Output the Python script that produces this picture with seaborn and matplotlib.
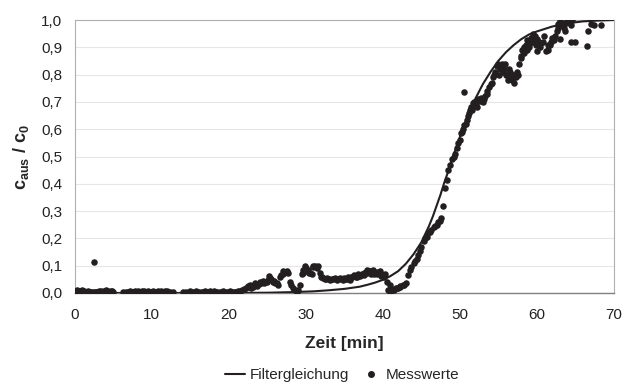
import numpy as np
import pandas as pd
import matplotlib
matplotlib.use("Agg")
import matplotlib.pyplot as plt
import seaborn as sns
from matplotlib.lines import Line2D
from matplotlib.ticker import FuncFormatter, MultipleLocator

# ---- data ----
line_t = [0, 20, 25, 28, 31, 33, 35, 37, 38, 39, 40, 41, 42, 43, 44, 45, 46, 46.5, 47, 47.5,
          48, 48.5, 49, 49.5, 50, 50.5, 51, 52, 53, 54, 55, 56, 57, 58, 59, 60, 62, 64, 66,
          68, 70]
line_c = [0, 0, 0.001, 0.003, 0.006, 0.01, 0.015, 0.023, 0.03, 0.038, 0.048, 0.062, 0.08,
          0.107, 0.142, 0.185, 0.245, 0.28, 0.32, 0.36, 0.405, 0.445, 0.49, 0.53, 0.57, 0.61,
          0.645, 0.71, 0.765, 0.81, 0.85, 0.882, 0.908, 0.93, 0.947, 0.958, 0.976, 0.988,
          0.995, 0.998, 1.0]

base_t = [0.1, 0.3, 0.5, 0.7, 0.9, 1.1, 1.4, 1.7, 2.0, 2.3, 2.5, 2.6, 2.9, 3.2, 3.5, 3.8,
          4.1, 4.4, 4.7, 5.0, 6.2, 6.6, 6.9, 7.2, 7.5, 7.8, 8.1, 8.4, 8.7, 9.0, 9.3, 9.6,
          9.9, 10.2, 10.5, 10.8, 11.1, 11.4, 11.7, 12.0, 12.3, 12.7, 14.0, 14.5, 14.9,
          15.3, 15.7, 16.1, 16.5, 16.9, 17.3, 17.7, 18.1, 18.5, 18.9, 19.3, 19.7, 20.1, 20.5,
          0.2, 0.6, 1.0, 1.25, 1.55, 1.85, 2.15, 2.75, 3.05, 3.35, 3.65, 3.95, 4.25, 4.55,
          4.85, 7.05, 7.65, 8.25, 8.85, 9.45, 10.05, 10.65, 11.25, 11.85, 15.1, 15.9, 16.7,
          17.5, 18.3, 19.1, 19.9, 20.3]
base_c = [0.006, 0.01, 0.004, 0.008, 0.012, 0.005, 0.003, 0.006, 0.004, 0.002, 0.115, 0.005,
          0.003, 0.006, 0.004, 0.008, 0.01, 0.005, 0.007, 0.004, 0.002, 0.005, 0.003,
          0.006, 0.004, 0.007, 0.005, 0.003, 0.008, 0.006, 0.004, 0.005, 0.002, 0.006,
          0.004, 0.007, 0.005, 0.003, 0.008, 0.006, 0.004, 0.005, 0.004, 0.003, 0.006,
          0.004, 0.008, 0.005, 0.003, 0.006, 0.004, 0.003, 0.007, 0.005, 0.004, 0.008,
          0.005, 0.006, 0.003,
          0.003, 0.007, 0.004, 0.009, 0.004, 0.002, 0.005, 0.004, 0.002, 0.006, 0.003,
          0.007, 0.009, 0.004, 0.006, 0.002, 0.004, 0.006, 0.003, 0.007, 0.004, 0.003,
          0.006, 0.004, 0.002, 0.005, 0.004, 0.006, 0.003, 0.005, 0.004, 0.002]

mid_t = [20.8, 21.2, 21.7, 22.0, 22.3, 22.7, 23.1, 23.4, 23.7, 24.0, 24.4, 24.7, 25.1, 25.2,
         25.5, 25.7, 26.0, 26.4, 26.6, 27.0, 27.3, 27.7, 27.9, 28.3, 28.6, 29.0, 29.2, 29.5,
         29.7, 29.9, 30.1, 30.4, 30.8, 30.9, 31.2, 31.6, 32.1, 32.3, 32.6, 33.0, 33.4, 33.8,
         34.2, 34.6, 35.0, 35.4, 35.7, 36.0, 36.3, 36.6, 37.0, 37.3, 37.6, 37.9, 38.2, 38.5,
         38.7, 39.0, 39.3, 39.6, 39.9, 40.1, 40.3, 40.5, 40.7, 40.9, 41.2, 41.4, 41.7, 42.0,
         42.3, 42.6, 43.0, 43.3,
         21.0, 21.5, 22.5, 22.9, 23.3, 23.9, 24.2, 24.6, 24.9, 25.4, 25.9, 26.2, 26.8, 27.1,
         27.5, 28.1, 28.9, 29.6, 30.0, 30.3, 30.6, 31.0, 31.4, 31.8, 32.0, 32.5, 32.8, 33.2,
         33.6, 34.0, 34.4, 34.8, 35.2, 35.5, 35.9, 36.2, 36.5, 36.8, 37.1, 37.5, 37.8, 38.0,
         38.4, 38.9, 39.2, 39.5, 39.8, 40.2, 41.0, 41.5, 41.9, 42.2, 42.8]
mid_c = [0.003, 0.006, 0.01, 0.015, 0.02, 0.03, 0.022, 0.035, 0.025, 0.04, 0.045, 0.04, 0.048,
         0.063, 0.05, 0.04, 0.035, 0.03, 0.06, 0.08, 0.078, 0.075, 0.04, 0.02, 0.012, 0.01,
         0.03, 0.07, 0.085, 0.1, 0.08, 0.072, 0.07, 0.1, 0.098, 0.1, 0.06, 0.055, 0.05, 0.052,
         0.05, 0.055, 0.05, 0.052, 0.055, 0.05, 0.048, 0.06, 0.065, 0.06, 0.065, 0.07, 0.066,
         0.085, 0.08, 0.07, 0.085, 0.075, 0.07, 0.08, 0.065, 0.06, 0.07, 0.04, 0.01, 0.03,
         0.01, 0.015, 0.02, 0.02, 0.025, 0.03, 0.035, 0.067,
         0.005, 0.008, 0.025, 0.018, 0.03, 0.032, 0.038, 0.035, 0.042, 0.055, 0.045, 0.038,
         0.065, 0.07, 0.08, 0.03, 0.005, 0.075, 0.09, 0.085, 0.075, 0.095, 0.092, 0.075,
         0.058, 0.05, 0.055, 0.048, 0.053, 0.049, 0.054, 0.047, 0.053, 0.06, 0.058, 0.062,
         0.057, 0.068, 0.062, 0.072, 0.078, 0.075, 0.082, 0.068, 0.078, 0.072, 0.062, 0.065,
         0.008, 0.012, 0.018, 0.022, 0.03]

rise_t = [43.7, 44.2, 44.6, 45.0, 45.5, 45.9, 46.3, 46.8, 47.2, 47.6, 47.8, 48.1, 48.3, 48.5,
          48.7, 49.0, 49.4, 49.8, 50.0, 50.2, 50.4, 50.6, 50.6, 50.9, 51.1, 51.3, 51.5, 51.7,
          52.0, 52.2, 52.4, 52.8, 53.0, 53.3, 53.5, 53.8, 54.2, 54.3, 54.6, 54.8,
          43.5, 44.0, 44.4, 44.8, 45.3, 45.7, 46.1, 46.6, 47.0, 47.4, 49.2, 49.6, 50.3, 50.8,
          51.2, 51.6, 51.9, 52.1, 52.6, 53.1, 53.6, 54.0, 54.5]
rise_c = [0.097, 0.116, 0.14, 0.17, 0.2, 0.22, 0.23, 0.245, 0.26, 0.275, 0.317, 0.385, 0.415,
          0.45, 0.47, 0.49, 0.51, 0.55, 0.56, 0.585, 0.6, 0.615, 0.735, 0.635, 0.65, 0.67,
          0.68, 0.695, 0.7, 0.68, 0.71, 0.715, 0.7, 0.72, 0.74, 0.755, 0.77, 0.79, 0.81, 0.83,
          0.085, 0.11, 0.125, 0.155, 0.19, 0.205, 0.225, 0.24, 0.25, 0.265, 0.5, 0.53, 0.59,
          0.62, 0.66, 0.67, 0.7, 0.69, 0.705, 0.71, 0.73, 0.765, 0.8]

top_t = [55.0, 55.2, 55.4, 55.6, 55.9, 56.1, 56.3, 56.5, 56.7, 56.8, 57.0, 57.2, 57.4, 57.6,
         57.7, 57.9, 58.1, 58.4, 58.6, 58.8, 59.0, 59.2, 59.5, 59.7, 59.9, 60.1, 60.3, 60.6,
         61.0, 61.2, 61.5, 61.7, 61.9, 62.2, 62.4, 62.6, 62.8, 63.0, 63.0, 63.3, 63.5, 63.7,
         63.9, 64.1, 64.4, 64.4, 64.6, 65.0, 66.5, 66.7, 67.0, 67.4, 68.3,
         55.1, 55.5, 55.8, 56.0, 56.4, 56.9, 57.3, 58.0, 58.3, 58.7, 59.1, 59.4, 59.8, 60.0,
         60.4, 60.8, 61.4, 62.0, 62.7, 63.2, 63.8, 64.3]
top_c = [0.84, 0.82, 0.83, 0.81, 0.84, 0.8, 0.78, 0.81, 0.79, 0.78, 0.77, 0.8, 0.81, 0.8,
         0.84, 0.86, 0.89, 0.88, 0.91, 0.925, 0.9, 0.935, 0.95, 0.925, 0.91, 0.885, 0.92,
         0.915, 0.94, 0.885, 0.89, 0.91, 0.92, 0.925, 0.94, 0.96, 0.985, 0.995, 0.93, 0.99,
         0.97, 0.96, 1.0, 0.995, 0.98, 0.92, 1.0, 0.92, 0.905, 0.96, 0.985, 0.98, 0.98,
         0.8, 0.84, 0.82, 0.8, 0.82, 0.8, 0.79, 0.87, 0.9, 0.89, 0.915, 0.92, 0.94, 0.93,
         0.9, 0.92, 0.91, 0.935, 0.97, 0.98, 0.99, 0.99]

x_ticks = [0, 10, 20, 30, 40, 50, 60, 70]

meas = pd.DataFrame({"t": base_t + mid_t + rise_t + top_t,
                     "c": base_c + mid_c + rise_c + top_c})
model = pd.DataFrame({"t": line_t, "c": line_c})

# ---- plot ----
sns.set_theme(style="white")
plt.rcParams["font.family"] = ["Liberation Sans", "DejaVu Sans"]
plt.rcParams["mathtext.fontset"] = "custom"
plt.rcParams["mathtext.rm"] = "Liberation Sans"
plt.rcParams["mathtext.bf"] = "Liberation Sans:bold"

fig = plt.figure(figsize=(6.34, 3.85), dpi=100)
ax = fig.add_axes([0.118, 0.239, 0.850, 0.709])

dark = "#231f20"
sns.lineplot(data=model, x="t", y="c", ax=ax, color=dark, linewidth=1.5, zorder=3)
sns.scatterplot(data=meas, x="t", y="c", ax=ax, color=dark, s=22, linewidth=0, zorder=4)

ax.set_xlim(0, 70)
ax.set_ylim(0, 1.0)
ax.set_xticks(x_ticks)
ax.yaxis.set_major_locator(MultipleLocator(0.1))
ax.yaxis.set_major_formatter(FuncFormatter(lambda v, p: f"{v:.1f}".replace(".", ",")))
ax.grid(axis="y", color="#e6e6e6", linewidth=0.8)
ax.set_axisbelow(True)
for s in ["top", "right", "left"]:
    ax.spines[s].set_color("#b0b0b0")
    ax.spines[s].set_linewidth(0.8)
ax.spines["bottom"].set_color("#808080")
ax.spines["bottom"].set_linewidth(1.0)
ax.tick_params(axis="x", length=0, labelsize=11, colors="#222222", pad=11)
ax.tick_params(axis="y", length=0, labelsize=11, colors="#222222", pad=9)

ax.set_xlabel("Zeit [min]", fontsize=12.5, fontweight="bold", labelpad=10)
ax.set_ylabel(r"$\mathbf{c_{aus}}$ / $\mathbf{c_0}$", fontsize=13, fontweight="bold",
              labelpad=7)

handles = [Line2D([0], [0], color=dark, lw=1.5),
           Line2D([0], [0], color=dark, marker="o", lw=0, markersize=4)]
fig.legend(handles, ["Filtergleichung", "Messwerte"], loc="lower center",
           bbox_to_anchor=(0.54, 0.0), borderaxespad=0.1, borderpad=0.1, ncol=2,
           frameon=False, fontsize=11, handlelength=1.3, handletextpad=0.3,
           columnspacing=0.8)

fig.savefig("out.png", dpi=100)
